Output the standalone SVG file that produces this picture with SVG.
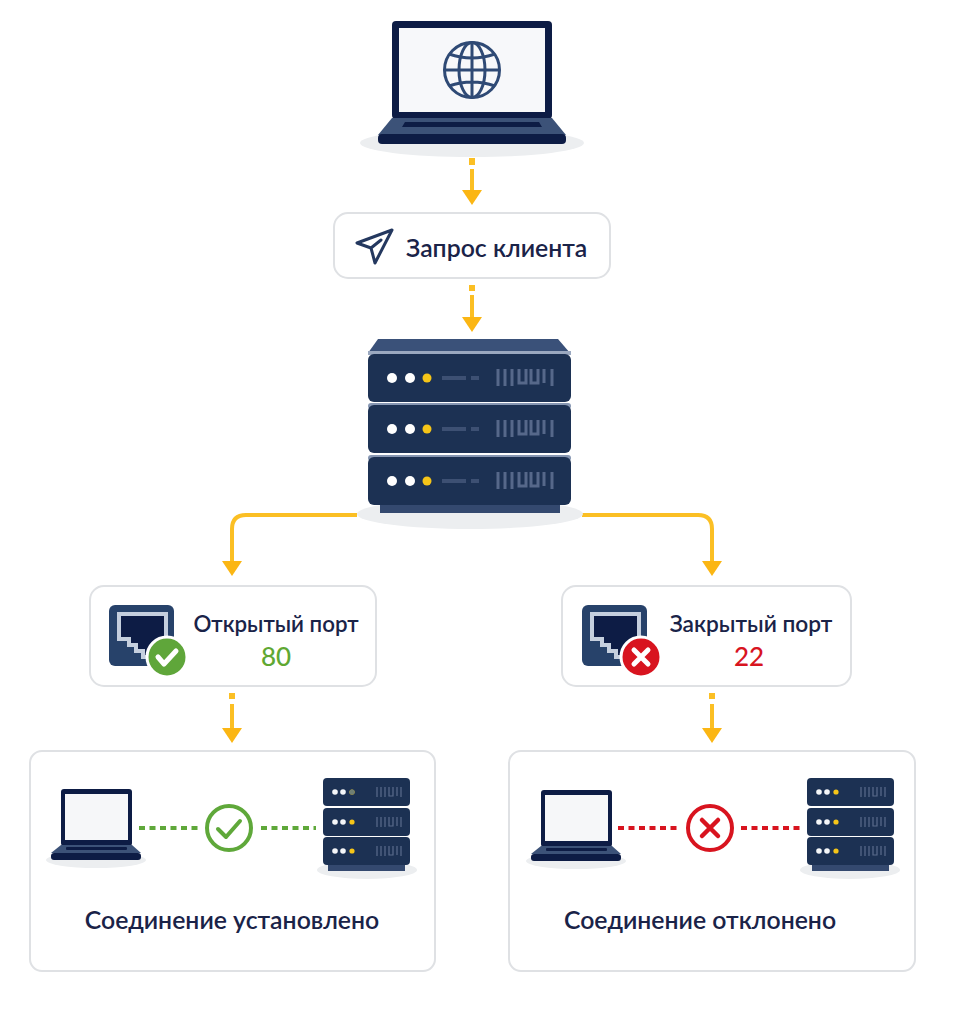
<svg xmlns="http://www.w3.org/2000/svg" width="958" height="1024" viewBox="0 0 958 1024">
<style>
.card{fill:#fff;stroke:#dfe1e4;stroke-width:2}
.lbl{font-family:"Lato","Noto Sans","Liberation Sans",sans-serif;font-weight:600;fill:#1a2348}
.num{font-family:"Lato","Noto Sans","Liberation Sans",sans-serif;font-weight:500}
.shadow{fill:#eceef0}
.a{fill:none;stroke:#fbbf24;stroke-width:4}
.sq{fill:none;stroke:#fbbf24;stroke-width:6}
.navy{fill:#0d1c45}
.mid{fill:#3c5278}
.unit{fill:#1c3153}
.gl{fill:none;stroke:#2f4a75;stroke-width:3}
.bar{fill:none;stroke:#56688a;stroke-width:3}
.w{fill:#fff}.y{fill:#f5c518}
</style>
<defs>
<marker id="head" markerUnits="userSpaceOnUse" markerWidth="16" markerHeight="20" refX="0" refY="10" orient="auto" viewBox="0 0 16 20"><polygon points="0,0 15,10 0,20" fill="#fbb614"/></marker>
<g id="bigUnit">
<rect x="0" y="0" width="203" height="48" rx="6" class="unit"/>
<circle cx="24" cy="24" r="5" class="w"/><circle cx="42" cy="24" r="5" class="w"/><circle cx="59" cy="24" r="4.5" class="y"/>
<path d="M74 24H98M103 24H111" stroke="#3d5073" stroke-width="4" fill="none"/>
<path d="M130 15V32M137 15V32M144 15V32M151 15V29H158V15M163 15V29H170V15M176 15V29M184 15V32" class="bar"/>
</g>
<g id="miniUnit">
<rect x="0" y="0" width="87" height="28" rx="4" class="unit"/>
<circle cx="12" cy="14" r="2.8" fill="#f4f6f8"/><circle cx="20" cy="14" r="2.8" fill="#f4f6f8"/><circle cx="29" cy="14" r="2.6" class="y"/>
<path d="M54 9V19M58 9V19M62 9V19M66 9V18H70V9M74 9V18M78 9V19" fill="none" stroke="#5a6c8c" stroke-width="1.2"/>
</g>
<g id="miniServer">
<rect x="5" y="85" width="77" height="8" fill="#34496f"/>
<use href="#miniUnit" y="0"/><use href="#miniUnit" y="30"/><use href="#miniUnit" y="59"/>
</g>
<g id="miniLaptop">
<rect x="10" y="0" width="71" height="57" rx="3" class="navy"/>
<rect x="14" y="5" width="63" height="46" fill="#f6f7f9"/>
<path d="M10 56H81L90 64H0Z" class="mid"/>
<rect x="15" y="58" width="61" height="3" rx="1" class="navy"/>
<rect x="0" y="64" width="90" height="7" rx="3" class="navy"/>
</g>
<g id="portIcon">
<rect x="0" y="0" width="65" height="61" rx="6" fill="#27426a"/>
<path d="M10 9H57V52H34V46H27V40H20V34H10Z" fill="#0d1c45" stroke="#c5cfde" stroke-width="4"/>
</g>
</defs>
<rect width="958" height="1024" fill="#fff"/>

<g id="connectors">
<path class="sq" d="M472 158V165"/><path class="a" d="M472 169V190" marker-end="url(#head)"/>
<path class="sq" d="M472 285V291"/><path class="a" d="M472 295V317" marker-end="url(#head)"/>
<path class="a" d="M357 515H246Q232 515 232 529V561" marker-end="url(#head)"/>
<path class="a" d="M582 515H698Q712 515 712 529V561" marker-end="url(#head)"/>
<path class="sq" d="M232 693V699"/><path class="a" d="M232 704V728" marker-end="url(#head)"/>
<path class="sq" d="M712 693V699"/><path class="a" d="M712 704V728" marker-end="url(#head)"/>
</g>

<g id="client-laptop">
<ellipse cx="472" cy="143" rx="112" ry="14" class="shadow"/>
<rect x="392" y="21" width="160" height="98" rx="4" class="navy"/>
<rect x="399" y="28" width="146" height="84" fill="#f7f8fa"/>
<circle cx="472" cy="70" r="27.5" class="gl"/>
<ellipse cx="472" cy="70" rx="13" ry="27.5" class="gl"/>
<path d="M472 42V98M444 70H500M449 54Q472 62 495 54M449 86Q472 78 495 86" class="gl"/>
<path d="M392 118H552L566 135H378Z" class="mid"/>
<path d="M405 122H539L542 127H402Z" class="navy"/>
<rect x="378" y="134" width="188" height="10" rx="4" class="navy"/>
</g>

<g id="request">
<rect x="334" y="213" width="276" height="65" rx="14" class="card"/>
<path d="M392 230L357 243L371 248L375 263ZM371 248L381 240" fill="none" stroke="#24385f" stroke-width="3" stroke-linejoin="round" stroke-linecap="round"/>
<text x="406" y="257" class="lbl" font-size="24.8">Запрос клиента</text>
</g>

<g id="server">
<ellipse cx="470" cy="514" rx="113" ry="15" class="shadow"/>
<path d="M378 339H558L570 353H368Z" fill="#3a5179"/>
<rect x="368" y="351" width="203" height="4" fill="#9aa8c0"/>
<rect x="380" y="503" width="180" height="10" fill="#34496f"/>
<rect x="368" y="403" width="203" height="6" rx="3" fill="#8797b3"/>
<rect x="368" y="455" width="203" height="6" rx="3" fill="#8797b3"/>
<use href="#bigUnit" x="368" y="354"/>
<use href="#bigUnit" x="368" y="405"/>
<use href="#bigUnit" x="368" y="457"/>
</g>

<g id="open-port">
<rect x="90" y="586" width="286" height="100" rx="14" class="card"/>
<use href="#portIcon" x="109" y="605"/>
<circle cx="167" cy="657" r="20" fill="#5fa63a" stroke="#fff" stroke-width="3"/>
<path d="M158 657L164 664L176 651" fill="none" stroke="#fff" stroke-width="5" stroke-linecap="round" stroke-linejoin="round"/>
<text x="276" y="632" text-anchor="middle" class="lbl" font-size="22.3">Открытый порт</text>
<text x="276" y="666" text-anchor="middle" class="num" font-size="26" fill="#5fa833">80</text>
</g>

<g id="closed-port">
<rect x="562" y="586" width="289" height="100" rx="14" class="card"/>
<use href="#portIcon" x="582" y="605"/>
<circle cx="641" cy="657" r="20" fill="#d8141f" stroke="#fff" stroke-width="3"/>
<path d="M634 650L648 664M648 650L634 664" fill="none" stroke="#fff" stroke-width="5" stroke-linecap="round"/>
<text x="751" y="632" text-anchor="middle" class="lbl" font-size="22.7">Закрытый порт</text>
<text x="749" y="666" text-anchor="middle" class="num" font-size="26" fill="#d8141f">22</text>
</g>

<g id="established">
<rect x="30" y="751" width="405" height="220" rx="12" class="card"/>
<ellipse cx="96" cy="860" rx="50" ry="8" class="shadow"/>
<use href="#miniLaptop" x="51" y="789"/>
<path d="M139 828H198M261 828H316" fill="none" stroke="#5fa83a" stroke-width="4" stroke-dasharray="6 4.5"/>
<circle cx="229" cy="828" r="22" fill="none" stroke="#5fa83a" stroke-width="4"/>
<path d="M218 829L226 837L240 821" fill="none" stroke="#5fa83a" stroke-width="4" stroke-linecap="round" stroke-linejoin="round"/>
<ellipse cx="367" cy="870" rx="50" ry="9" class="shadow"/>
<use href="#miniServer" x="323" y="778"/>
<circle cx="352" cy="792" r="2.6" fill="#6f7f74"/>
<text x="232" y="929" text-anchor="middle" class="lbl" font-size="24.8">Соединение установлено</text>
</g>

<g id="rejected">
<rect x="509" y="751" width="406" height="220" rx="12" class="card"/>
<ellipse cx="576" cy="861" rx="50" ry="8" class="shadow"/>
<use href="#miniLaptop" x="531" y="790"/>
<path d="M618 828H680M741 828H802" fill="none" stroke="#d8141f" stroke-width="4" stroke-dasharray="6 4.5"/>
<circle cx="710" cy="828" r="22" fill="none" stroke="#d8141f" stroke-width="4"/>
<path d="M702 820L718 836M718 820L702 836" fill="none" stroke="#d8141f" stroke-width="4.5" stroke-linecap="round"/>
<ellipse cx="850" cy="870" rx="50" ry="9" class="shadow"/>
<use href="#miniServer" x="807" y="778"/>
<text x="700" y="929" text-anchor="middle" class="lbl" font-size="24.8">Соединение отклонено</text>
</g>
</svg>
